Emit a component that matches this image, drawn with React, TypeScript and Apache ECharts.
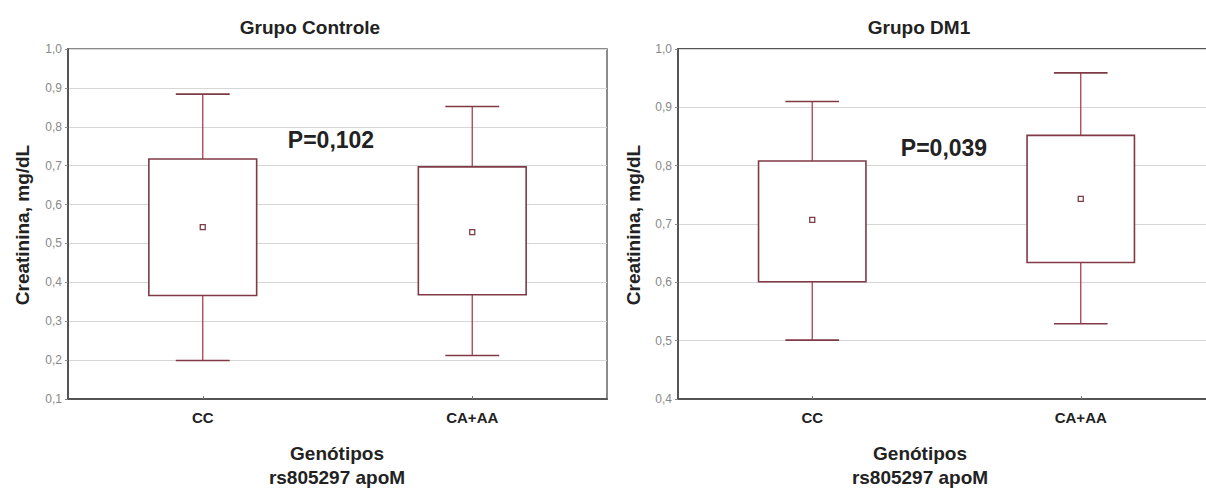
import React, { useEffect, useRef } from "react";
import * as echarts from "echarts";

const categories = ["CC", "CA+AA"];

const controleMin = [0.199, 0.212];
const controleQ1 = [0.366, 0.368];
const controleQ3 = [0.717, 0.697];
const controleMax = [0.884, 0.852];
const controleMean = [0.542, 0.529];

const dm1Min = [0.501, 0.529];
const dm1Q1 = [0.601, 0.634];
const dm1Q3 = [0.808, 0.852];
const dm1Max = [0.91, 0.959];
const dm1Mean = [0.707, 0.743];

const titles = ["Grupo Controle", "Grupo DM1"];
const pValues = ["P=0,102", "P=0,039"];
const yName = "Creatinina, mg/dL";
const xName1 = "Genótipos";
const xName2 = "rs805297 apoM";

const FONT = "'Liberation Sans', Arial, sans-serif";
const BOX = "#7f3a45";
const WHISK = "#a8404f";

function rows(mn: number[], q1: number[], q3: number[], mx: number[], mean: number[]) {
  return categories.map((_, i) => [i, mn[i], q1[i], q3[i], mx[i], mean[i]]);
}

function renderBox(params: any, api: any) {
  const cat = api.value(0);
  const band = api.size([1, 0])[0];
  const bw = band * 0.4;
  const cw = band * 0.2;
  const pMin = api.coord([cat, api.value(1)]);
  const pQ1 = api.coord([cat, api.value(2)]);
  const pQ3 = api.coord([cat, api.value(3)]);
  const pMax = api.coord([cat, api.value(4)]);
  const pMean = api.coord([cat, api.value(5)]);
  const cx = pMin[0];
  const ls = { stroke: WHISK, lineWidth: 1.3 };
  return {
    type: "group",
    children: [
      { type: "line", shape: { x1: cx, y1: pQ3[1], x2: cx, y2: pMax[1] }, style: ls },
      { type: "line", shape: { x1: cx, y1: pQ1[1], x2: cx, y2: pMin[1] }, style: ls },
      { type: "line", shape: { x1: cx - cw / 2, y1: pMax[1], x2: cx + cw / 2, y2: pMax[1] }, style: { stroke: BOX, lineWidth: 1.6 } },
      { type: "line", shape: { x1: cx - cw / 2, y1: pMin[1], x2: cx + cw / 2, y2: pMin[1] }, style: { stroke: BOX, lineWidth: 1.6 } },
      {
        type: "rect",
        shape: { x: cx - bw / 2, y: pQ3[1], width: bw, height: pQ1[1] - pQ3[1] },
        style: { fill: "#ffffff", stroke: BOX, lineWidth: 1.6 },
      },
      {
        type: "rect",
        shape: { x: cx - 2.5, y: pMean[1] - 2.5, width: 5, height: 5 },
        style: { fill: "#ffffff", stroke: BOX, lineWidth: 1.3 },
      },
    ],
  };
}

const fmt = (v: number) => v.toFixed(1).replace(".", ",");

function makeYAxis(gridIndex: number, min: number) {
  return {
    type: "value",
    gridIndex,
    min,
    max: 1.0,
    interval: 0.1,
    axisLine: { show: true, lineStyle: { color: "#555", width: 2 } },
    axisTick: { show: true, length: 3, lineStyle: { color: "#888" } },
    axisLabel: { formatter: fmt, color: "#888", fontSize: 12, fontFamily: FONT, margin: 6 },
    splitLine: { show: true, lineStyle: { color: "#d6d6d6", width: 1 } },
  };
}

function makeXAxis(gridIndex: number) {
  return {
    type: "category",
    gridIndex,
    data: categories,
    boundaryGap: true,
    axisLine: { show: true, lineStyle: { color: "#555", width: 2 } },
    axisTick: { show: true, alignWithLabel: true, inside: true, length: 3, lineStyle: { color: "#777" } },
    axisLabel: { color: "#222", fontSize: 15, fontWeight: "bold", fontFamily: FONT, margin: 11 },
    splitLine: { show: false },
  };
}

function txt(text: string, x: number, y: number, size: number, rotation = 0) {
  return {
    type: "text",
    x,
    y,
    rotation,
    style: {
      text,
      fill: "#222",
      font: `bold ${size}px ${FONT}`,
      textAlign: "center",
      textVerticalAlign: "middle",
    },
  };
}

export default function App() {
  const ref = useRef<HTMLDivElement>(null);
  useEffect(() => {
    document.body.style.margin = "0";
    const chart = echarts.init(ref.current!, null, { renderer: "svg" });
    chart.setOption({
      animation: false,
      backgroundColor: "#ffffff",
      grid: [
        { left: 68, top: 49, width: 539, height: 350, outerBoundsMode: "none", containLabel: false, show: true, borderColor: "#666", borderWidth: 1.5, backgroundColor: "transparent" },
        { left: 678, top: 49, width: 537, height: 350, outerBoundsMode: "none", containLabel: false, show: true, borderColor: "#555", borderWidth: 2, backgroundColor: "transparent" },
      ],
      xAxis: [makeXAxis(0), makeXAxis(1)],
      yAxis: [makeYAxis(0, 0.1), makeYAxis(1, 0.4)],
      series: [
        {
          type: "custom",
          xAxisIndex: 0,
          yAxisIndex: 0,
          renderItem: renderBox,
          encode: { x: 0, y: [1, 2, 3, 4, 5] },
          data: rows(controleMin, controleQ1, controleQ3, controleMax, controleMean),
          z: 10,
        },
        {
          type: "custom",
          xAxisIndex: 1,
          yAxisIndex: 1,
          renderItem: renderBox,
          encode: { x: 0, y: [1, 2, 3, 4, 5] },
          data: rows(dm1Min, dm1Q1, dm1Q3, dm1Max, dm1Mean),
          z: 10,
        },
      ],
      graphic: [
        txt(titles[0], 310, 27, 19),
        txt(titles[1], 919, 27, 19),
        txt(pValues[0], 331, 140, 23),
        txt(pValues[1], 944, 148, 23),
        txt(yName, 22, 225, 19, Math.PI / 2),
        txt(yName, 633, 225, 19, Math.PI / 2),
        txt(xName1, 337, 453, 19),
        txt(xName2, 337, 477, 19),
        txt(xName1, 920, 453, 19),
        txt(xName2, 920, 477, 19),
      ],
    });
    return () => chart.dispose();
  }, []);
  return <div ref={ref} style={{ width: 1206, height: 489 }} />;
}
